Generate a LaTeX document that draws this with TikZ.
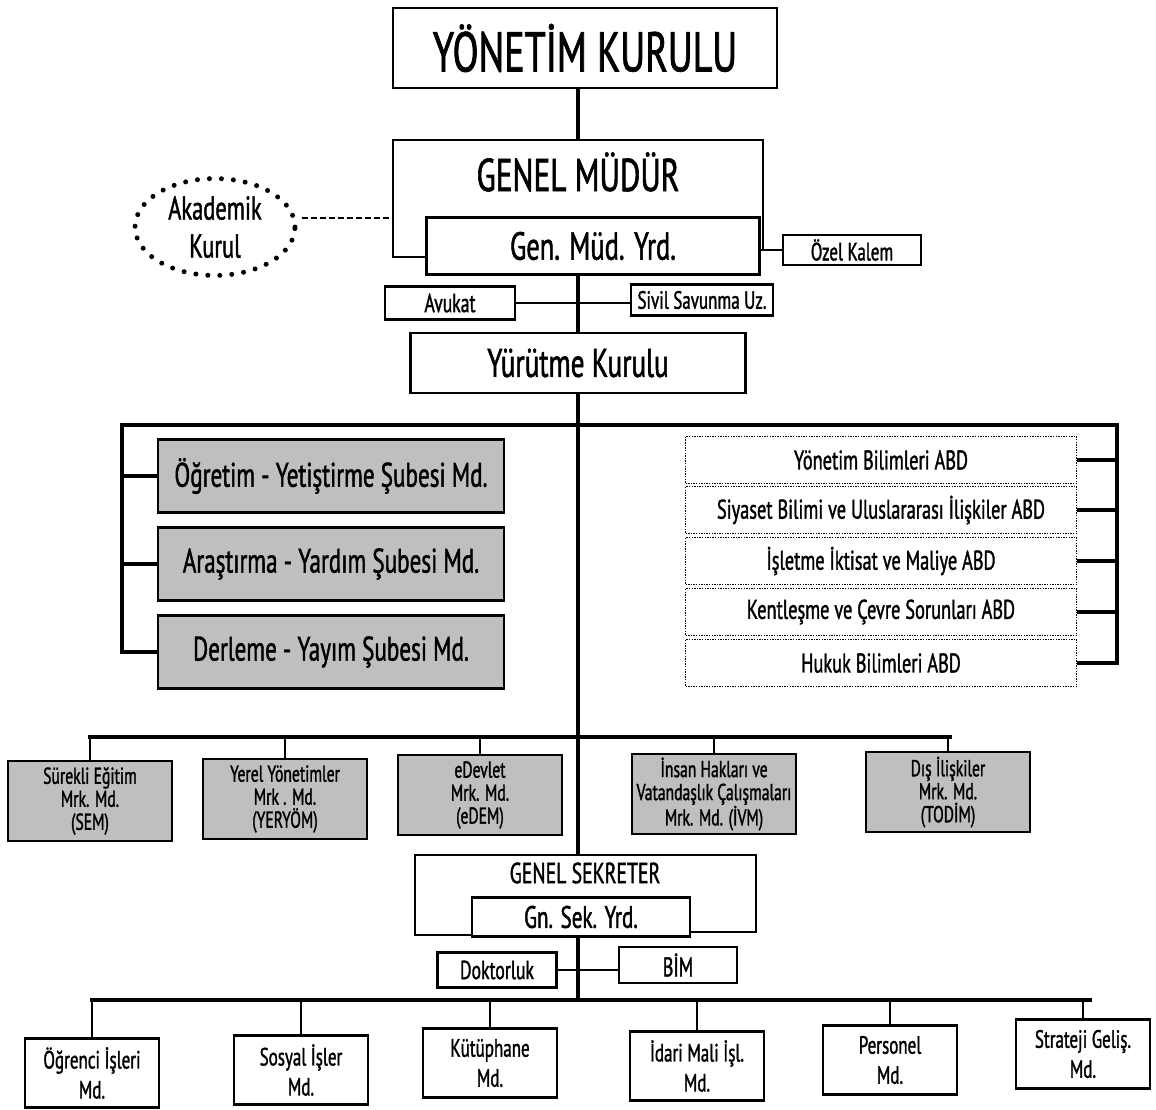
\documentclass[tikz,border=0pt]{standalone}
\usepackage{fontspec}
\setmainfont{PT Sans}[FakeStretch=0.68,FakeBold=1.3]
\usetikzlibrary{shapes.geometric,calc}
\newcommand{\boy}[2]{\fontsize{#1}{#2}\selectfont}
\begin{document}
\begin{tikzpicture}[x=1pt,y=-1pt,
  kutu/.style={draw,line width=2.4pt,align=center,inner sep=0pt},
  gri/.style={kutu,fill=gray!50},
  nokta/.style={draw,line width=1.6pt,dash pattern=on 1.4pt off 1.2pt,align=center,inner sep=0pt},
  hat/.style={line width=4pt},
  ince/.style={line width=2.4pt}]%TEŞKİLAT ŞEMASI
\useasboundingbox (0,0) rectangle (1156,1110);
\node[kutu,minimum width=384,minimum height=80,font=\boy{56}{60}] (yk) at (585,48) {YÖNETİM KURULU};
\node[font=\boy{46}{50}] (gm) at (578,172) {GENEL MÜDÜR};
\node[kutu,minimum width=333,minimum height=57,font=\boy{39}{42}] (gmy) at (593,246) {Gen. Müd. Yrd.};
\node[kutu,minimum width=138,minimum height=30,font=\boy{25}{28}] (ozel) at (852,250) {Özel Kalem};
\node[ellipse,draw,line width=5pt,line cap=round,dash pattern=on 0pt off 12pt,minimum width=160,minimum height=84,align=center,font=\boy{33}{38}] (akd) at (215,227) {Akademik\\Kurul};
\node[kutu,minimum width=130,minimum height=33,font=\boy{26}{28}] (avukat) at (450,303) {Avukat};
\node[kutu,minimum width=142,minimum height=31,font=\boy{25}{28}] (sivil) at (702,300) {Sivil Savunma Uz.};
\node[kutu,minimum width=335,minimum height=60,font=\boy{40}{44}] (yurutme) at (578,363) {Yürütme Kurulu};
\coordinate (gmtop) at (578,140);
\coordinate (gstop) at (578,855);
\draw[hat] (yk.south -| gmtop) -- (gmtop);
\draw[ince] (gmy.west |- 0,257) -| (393,140) -- (763,140) -- (763,250);
\draw[ince] (gmy.east |- ozel.west) -- (ozel.west);
\draw[ince,dash pattern=on 6pt off 3pt] ($(akd.east)+(4,-9)$) -- ($(akd.east)+(96,-9)$);
\draw[hat] (gmy.south -| gmtop) -- (yurutme.north -| gmtop);
\draw[ince] (avukat.east) -- (avukat.east -| sivil.west);
\draw[hat] (yurutme.south -| gmtop) -- (gstop);
% sube mudurlukleri ve ABD
\draw[hat] (122,425) -- (1117,425);
\foreach \ad/\y/\metin in {ogr/476/{Öğretim - Yetiştirme Şubesi Md.},ara/564/{Araştırma - Yardım Şubesi Md.},der/652/{Derleme - Yayım Şubesi Md.}}{
  \node[gri,minimum width=346,minimum height=73,font=\boy{34}{36}] (\ad) at (331,\y) {\metin};
  \draw[hat] (122,\y) -- (\ad.west);}
\draw[hat] (122,423) -- (122,654);
\foreach \ad/\y/\metin in {abd1/460/{Yönetim Bilimleri ABD},abd2/510/{Siyaset Bilimi ve Uluslararası İlişkiler ABD},abd3/561/{İşletme İktisat ve Maliye ABD},abd4/612/{Kentleşme ve Çevre Sorunları ABD},abd5/663/{Hukuk Bilimleri ABD}}{
  \node[nokta,minimum width=391,minimum height=47,font=\boy{27}{30}] (\ad) at (881,\y) {\metin};
  \draw[hat] (1117,\y) -- (\ad.east);}
\draw[hat] (1117,423) -- (1117,665);
% merkezler
\draw[hat] (88,737) -- (952,737);
\foreach \ad/\x/\y/\metin in {sem/90/801/{Sürekli Eğitim\\Mrk. Md.\\(SEM)},yer/285/799/{Yerel Yönetimler\\Mrk . Md.\\(YERYÖM)},ede/480/795/{eDevlet\\Mrk. Md.\\(eDEM)},ivm/714/794/{İnsan Hakları ve\\Vatandaşlık Çalışmaları\\Mrk. Md. (İVM)},tod/948/792/{Dış İlişkiler\\Mrk. Md.\\(TODİM)}}{
  \node[gri,minimum width=164,minimum height=80,font=\boy{23}{23}] (\ad) at (\x,\y) {\metin};
  \draw[ince] (\ad.north |- 0,737) -- (\ad.north);}
% genel sekreter
\node[font=\boy{29}{31}] (gs) at (585,873) {GENEL SEKRETER};
\node[kutu,minimum width=218,minimum height=39,font=\boy{31}{33}] (gsy) at (581,917) {Gn. Sek. Yrd.};
\draw[ince] (gsy.west |- 0,935) -| (415,855) -- (756,855) |- (gsy.east |- 0,932);
\node[kutu,minimum width=119,minimum height=35,font=\boy{26}{28}] (dok) at (497,970) {Doktorluk};
\node[kutu,minimum width=118,minimum height=36,font=\boy{27}{28}] (bim) at (678,965) {BİM};
\draw[ince] (dok.east) -- (dok.east -| bim.west);
\draw[hat] (gsy.south -| gstop) -- (578,1000);
\draw[hat] (90,1000) -- (1092,1000);
\foreach \ad/\x/\y/\metin in {ogi/92/1073/{Öğrenci İşleri\\Md.},sos/301/1070/{Sosyal İşler\\Md.},kut/490/1063/{Kütüphane\\Md.},ida/697/1066/{İdari Mali İşl.\\Md.},per/890/1060/{Personel\\Md.},str/1083/1054/{Strateji Geliş.\\Md.}}{
  \node[kutu,minimum width=134,minimum height=69,font=\boy{25}{30}] (\ad) at (\x,\y) {\metin};
  \draw[ince] (\ad.north |- 0,1000) -- (\ad.north);}
\end{tikzpicture}
\end{document}
